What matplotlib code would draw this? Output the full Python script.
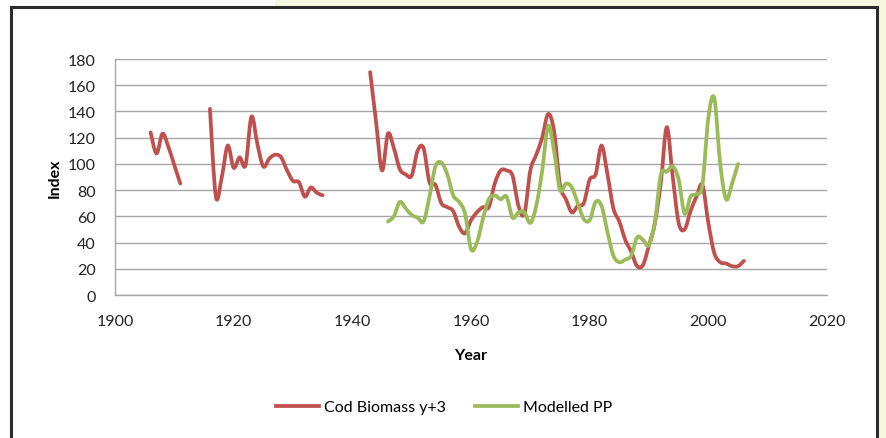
import numpy as np
import matplotlib.pyplot as plt
from matplotlib.patches import Rectangle, PathPatch
from matplotlib.path import Path
from matplotlib.lines import Line2D

# Cod biomass (y+3), three separate runs of years
cod_years_a = [1906, 1907, 1908, 1909, 1910, 1911]
cod_vals_a = [124, 108, 123, 113, 99, 85]

cod_years_b = list(range(1916, 1936))
cod_vals_b = [142, 75, 90, 114, 97, 105, 99, 136, 115, 98,
              104, 107, 105, 95, 87, 86, 75, 82, 78, 76]

cod_years_c = list(range(1943, 2007))
cod_vals_c = [170, 132, 95, 123, 112, 96, 92, 91, 110, 112,
              86, 84, 70, 67, 64, 52, 47, 57, 63, 67,
              67, 85, 95, 95, 91, 68, 62, 95, 107, 120,
              138, 125, 84, 73, 63, 68, 70, 88, 92, 114,
              92, 66, 56, 42, 33, 22, 23, 38, 55, 86,
              128, 90, 55, 50, 64, 75, 84, 55, 32, 25,
              24, 22, 22, 26]

pp_years = list(range(1946, 2006))
pp_vals = [56, 60, 71, 66, 61, 59, 56, 75, 98, 101,
           92, 76, 71, 62, 35, 40, 58, 73, 76, 73,
           75, 59, 63, 63, 55, 68, 95, 129, 110, 80,
           85, 82, 70, 58, 57, 71, 68, 48, 30, 25,
           27, 30, 44, 42, 38, 56, 92, 94, 98, 88,
           62, 75, 77, 84, 135, 150, 100, 73, 85, 100]

x_ticks = [1900, 1920, 1940, 1960, 1980, 2000, 2020]
y_ticks = list(range(0, 181, 20))

RED = '#C0504D'
GREEN = '#9BBB59'
LW = 2.7
W, H = 886, 439


def smooth_line(ax, xs, ys, color):
    # Excel-style "smoothed line": cubic bezier through every point
    p = np.column_stack([xs, ys]).astype(float)
    verts = [p[0]]
    codes = [Path.MOVETO]
    n = len(p)
    for i in range(n - 1):
        p0 = p[i - 1] if i > 0 else p[i]
        p3 = p[i + 2] if i + 2 < n else p[i + 1]
        c1 = p[i] + (p[i + 1] - p0) / 6
        c2 = p[i + 1] - (p3 - p[i]) / 6
        verts += [c1, c2, p[i + 1]]
        codes += [Path.CURVE4] * 3
    ax.add_patch(PathPatch(Path(verts, codes), facecolor='none', edgecolor=color,
                           lw=LW, joinstyle='round', capstyle='round'))


plt.rcParams['font.family'] = ['Lato', 'DejaVu Sans']

fig = plt.figure(figsize=(W / 100, H / 100), dpi=100)
fig.patch.set_facecolor('white')

# background: yellow page on the right, white chart box with dark frame
fig.patches.append(Rectangle((275 / W, 0), 1 - 275 / W, 1, transform=fig.transFigure,
                             facecolor='#F5F7DE', edgecolor='none', zorder=-3))
fig.patches.append(Rectangle((11 / W, -0.05), 866 / W, 1.05 - 8 / H, transform=fig.transFigure,
                             facecolor='white', edgecolor='#2b2b2b', linewidth=2.2, zorder=-2))

ax = fig.add_axes([115 / W, 1 - 296 / H, (827 - 115) / W, (296 - 60) / H])
ax.set_facecolor('none')

for yr, v in [(cod_years_a, cod_vals_a), (cod_years_b, cod_vals_b), (cod_years_c, cod_vals_c)]:
    smooth_line(ax, yr, v, RED)
smooth_line(ax, pp_years, pp_vals, GREEN)

ax.set_xlim(1900, 2020)
ax.set_ylim(0, 180)
ax.set_xticks(x_ticks)
ax.set_yticks(y_ticks)
ax.yaxis.grid(True, color='#a6a6a6', lw=1)
ax.set_axisbelow(True)
for s in ['top', 'right']:
    ax.spines[s].set_visible(False)
for s in ['left', 'bottom']:
    ax.spines[s].set_color('#a6a6a6')
    ax.spines[s].set_linewidth(1)
ax.tick_params(length=0, labelsize=11.5, colors='#222222')
ax.tick_params(axis='y', pad=14)
ax.tick_params(axis='x', pad=14)
ax.set_xlabel('Year', fontsize=11.5, fontweight='bold', labelpad=14)
ax.set_ylabel('Index', fontsize=11.5, fontweight='bold', labelpad=4)

handles = [Line2D([], [], color=RED, lw=LW), Line2D([], [], color=GREEN, lw=LW)]
fig.legend(handles, ['Cod Biomass y+3', 'Modelled PP'], loc='center',
           bbox_to_anchor=(444 / W, 1 - 408 / H), ncol=2, frameon=False,
           fontsize=11.5, handlelength=2.7, handletextpad=0.3, columnspacing=1.8)

fig.savefig('out.png', dpi=100, facecolor=fig.get_facecolor())
